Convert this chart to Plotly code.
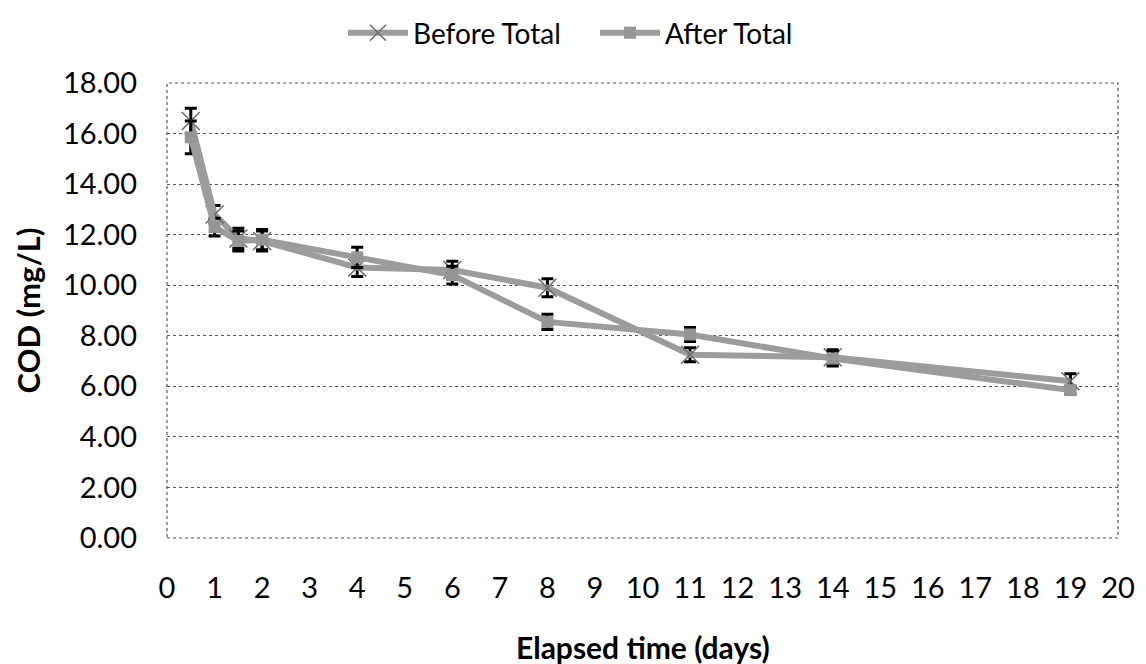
import plotly.graph_objects as go

days = [0.5, 1, 1.5, 2, 4, 6, 8, 11, 14, 19]
before_total = [16.5, 12.8, 11.85, 11.75, 10.7, 10.6, 9.9, 7.25, 7.15, 6.2]
before_err = [0.5, 0.35, 0.4, 0.4, 0.35, 0.35, 0.36, 0.28, 0.3, 0.3]
after_total = [15.85, 12.3, 11.75, 11.8, 11.1, 10.4, 8.55, 8.05, 7.1, 5.85]
after_err = [0.65, 0.35, 0.4, 0.4, 0.4, 0.35, 0.3, 0.28, 0.3, 0.15]
x_ticks = list(range(0, 21))
y_ticks = [0, 2, 4, 6, 8, 10, 12, 14, 16, 18]
y_labels = [f"{v:.2f}" for v in y_ticks]

FONT = "Lato"
LINE_COLOR = "#9c9c9c"

# page body has an 8px margin; lay the figure out in window pixels minus that offset
OFF = 8
W, H = 1146 - OFF, 664 - OFF
PL, PT, PR, PB = 167, 83, 1118, 538          # plot area in window pixels
ML, MT = PL - OFF, PT - OFF
MR, MB = W - (PR - OFF), H - (PB - OFF)
PW, PH = PR - PL, PB - PT

fig = go.Figure()
fig.add_trace(go.Scatter(
    x=days, y=before_total, name="Before Total", mode="lines+markers",
    line=dict(color=LINE_COLOR, width=6),
    marker=dict(symbol="x-thin", size=18, line=dict(color="#6a6a6a", width=1.5), color="#6a6a6a"),
    error_y=dict(type="data", array=before_err, visible=True, color="black", thickness=3, width=6),
))
fig.add_trace(go.Scatter(
    x=days, y=after_total, name="After Total", mode="lines+markers",
    line=dict(color=LINE_COLOR, width=6),
    marker=dict(symbol="square", size=12, color="#959595", line=dict(width=0)),
    error_y=dict(type="data", array=after_err, visible=True, color="black", thickness=3, width=6),
))

fig.add_shape(type="rect", xref="paper", yref="paper", x0=0, y0=0, x1=1, y1=1,
              line=dict(color="#555555", width=1.2, dash="dot"), layer="above")

fig.add_annotation(text="<b>Elapsed time (days)</b>", xref="paper", x=0.5, xanchor="center",
                   yref="paper", y=(PB - 647) / PH, yanchor="middle", showarrow=False,
                   font=dict(family=FONT, size=30, color="black"))
fig.add_annotation(text="<b>COD (mg/L)</b>", xref="paper", x=(27 - PL) / PW, xanchor="center",
                   yref="paper", y=0.5, yanchor="middle", textangle=-90, showarrow=False,
                   font=dict(family=FONT, size=31, color="black"))

fig.update_layout(
    width=W, height=H,
    margin=dict(l=ML, r=MR, t=MT, b=MB, autoexpand=False),
    paper_bgcolor="white", plot_bgcolor="white",
    font=dict(family=FONT, size=29, color="black"),
    showlegend=True,
    legend=dict(orientation="h", xref="container", x=(343 - OFF) / W, xanchor="left",
                yref="container", y=1.0, yanchor="top",
                font=dict(family=FONT, size=28), itemwidth=60, entrywidth=177,
                bgcolor="rgba(0,0,0,0)", borderwidth=0),
    xaxis=dict(range=[0, 20], tickvals=x_ticks, ticktext=[str(v) for v in x_ticks],
               showgrid=False, zeroline=False, showline=False, ticks="",
               ticklabelstandoff=30, automargin=False),
    yaxis=dict(range=[0, 18], tickvals=y_ticks, ticktext=y_labels,
               showgrid=True, gridcolor="#555555", griddash="dot", gridwidth=1.2,
               zeroline=False, showline=False, ticks="", ticklabelstandoff=29,
               automargin=False),
)

fig.write_html("out.html")
